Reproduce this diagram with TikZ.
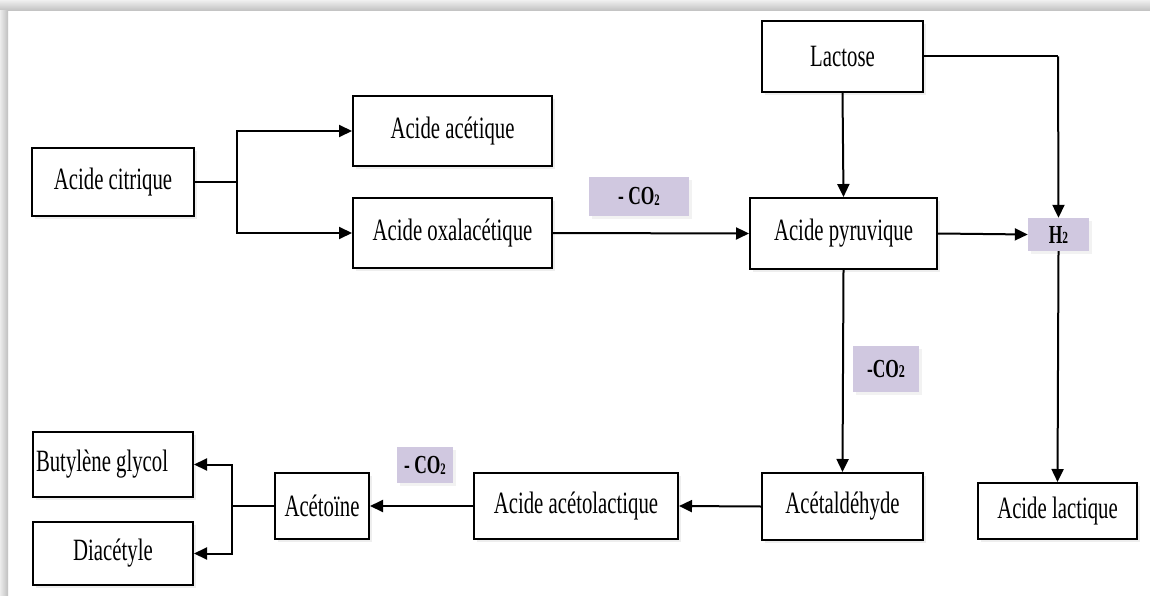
\documentclass[tikz,border=0pt]{standalone}
\usepackage{fontspec}
\setmainfont{Liberation Serif}[FakeStretch=0.67]
\usetikzlibrary{arrows.meta,shadows}
\definecolor{lav}{HTML}{D0C8E0}
\begin{document}
\begin{tikzpicture}[x=1pt,y=-1pt,
  box/.style={draw, line width=2pt, fill=white, inner sep=0pt,
    font=\fontsize{31}{34}\selectfont,
    drop shadow={opacity=0.13, shadow xshift=3pt, shadow yshift=-3pt}},
  tag/.style={fill=lav, inner sep=0pt, font=\fontsize{26}{28}\selectfont\bfseries,
    drop shadow={opacity=0.10, shadow xshift=3pt, shadow yshift=-3pt}},
  arr/.style={line width=2pt, -{Triangle[length=13pt,width=12pt]}},
  ln/.style={line width=2pt}]
\useasboundingbox (0,0) rectangle (1150,596);
\fill[white] (0,0) rectangle (1150,596);
% frame shadow bands
\shade[top color=gray!12, bottom color=gray!50] (0,0) rectangle (1150,11);
\shade[left color=gray!15, right color=gray!50] (0,11) rectangle (8,596);

% nodes
\node[box, minimum width=162pt, minimum height=68pt] (cit) at (113,182) {Acide citrique};
\node[box, minimum width=199pt, minimum height=70pt] (ace) at (452.5,131) {Acide acétique};
\node[box, minimum width=199pt, minimum height=70pt] (oxa) at (452.5,233) {Acide oxalacétique};
\node[box, minimum width=187pt, minimum height=71pt] (pyr) at (843.5,233.5) {Acide pyruvique};
\node[box, minimum width=161pt, minimum height=71pt] (lac) at (842.5,56.5) {Lactose};
\node[tag, minimum width=61pt, minimum height=33pt] (h2) at (1058.5,234.5) {H{\fontsize{17}{17}\selectfont 2}};
\node[tag, minimum width=100pt, minimum height=39pt] (co2a) at (639,196.5) {- CO{\fontsize{16}{16}\selectfont\raisebox{-1pt}{2}}};
\node[tag, minimum width=66pt, minimum height=46pt] (co2b) at (886,369) {-CO{\fontsize{18}{18}\selectfont 2}};
\node[box, minimum width=161pt, minimum height=67pt] (ald) at (842.5,506.5) {Acétaldéhyde};
\node[box, minimum width=159pt, minimum height=56pt] (lct) at (1057.5,511) {Acide lactique};
\node[box, minimum width=204pt, minimum height=66pt] (acl) at (576,506) {Acide acétolactique};
\node[tag, minimum width=56pt, minimum height=36pt] (co2c) at (425,465) {- CO{\fontsize{16}{16}\selectfont\raisebox{-1pt}{2}}};
\node[box, minimum width=94pt, minimum height=66pt] (aco) at (322,506) {Acétoïne};
\node[box, minimum width=160pt, minimum height=65pt] (but) at (113,464.5) {\makebox[154pt][l]{Butylène glycol}};
\node[box, minimum width=160pt, minimum height=63pt] (dia) at (113,553.5) {Diacétyle};

% branch points
\coordinate (b1) at (237,182);
\coordinate (b2) at (232,506);
\coordinate (lr) at (1058,56.5);

% connectors
\draw[ln] (cit.east) -- (b1);
\draw[arr] (b1) |- (ace.west);
\draw[arr] (b1) |- (oxa.west);
\draw[arr] (oxa.east) -- (pyr.west);
\draw[arr] (lac.south) -- (pyr.north);
\draw[ln] (lac.east) -- (lr);
\draw[arr] (lr) -- (h2.north);
\draw[arr] (pyr.east) -- (h2.west);
\draw[arr] (h2.south) -- (lct.north);
\draw[arr] (pyr.south) -- (ald.north);
\draw[arr] (ald.west) -- (acl.east);
\draw[arr] (acl.west) -- (aco.east);
\draw[ln] (aco.west) -- (b2);
\draw[arr] (b2) |- (but.east);
\draw[arr] (b2) |- (dia.east);
\end{tikzpicture}
\end{document}
